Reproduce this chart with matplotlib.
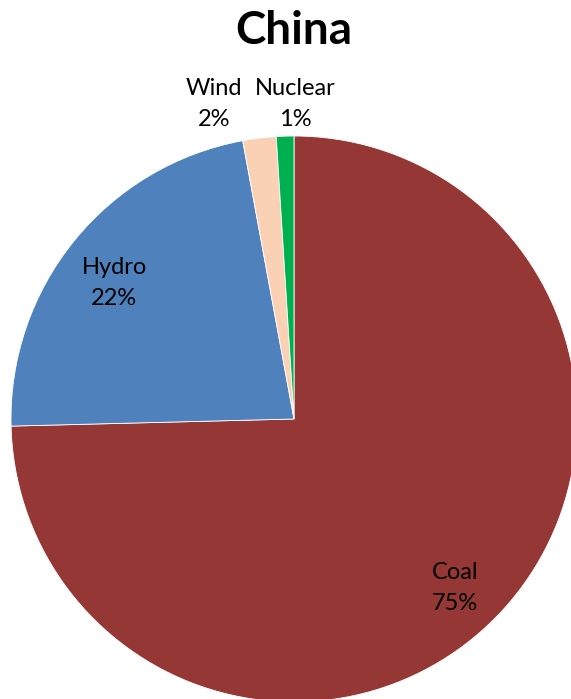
import matplotlib.pyplot as plt

# data
categories = ['Coal', 'Hydro', 'Wind', 'Nuclear']
shares = [74.6, 22.5, 1.9, 1.0]
pct_labels = ['75%', '22%', '2%', '1%']
colors = ['#953735', '#4F81BD', '#FAD1B4', '#00B050']

plt.rcParams['font.family'] = ['Lato', 'DejaVu Sans']

W, H = 571, 699
fig = plt.figure(figsize=(W / 100, H / 100), dpi=100)
ax = fig.add_axes([0, 0, 1, 1])

# pie centre / radius in pixel units (y measured from bottom)
cx, cy, r = 294, H - 419, 283
wedges, _ = ax.pie(shares, colors=colors, startangle=90, counterclock=False,
                   center=(cx, cy), radius=r, frame=True,
                   wedgeprops=dict(linewidth=0.6, edgecolor='white'))
ax.set_xlim(0, W)
ax.set_ylim(0, H)
ax.axis('off')

# label positions (pixel coords from top)
label_pos = [(455, 588), (114, 283), (214, 104), (295, 104)]
for name, pct, (x, y) in zip(categories, pct_labels, label_pos):
    ax.text(x, H - y, name + '\n' + pct, ha='center', va='center',
            fontsize=17, linespacing=1.6, color='black')

ax.text(294, H - 31, 'China', ha='center', va='center',
        fontsize=33, fontweight='bold')

fig.savefig('out.png', dpi=100)
